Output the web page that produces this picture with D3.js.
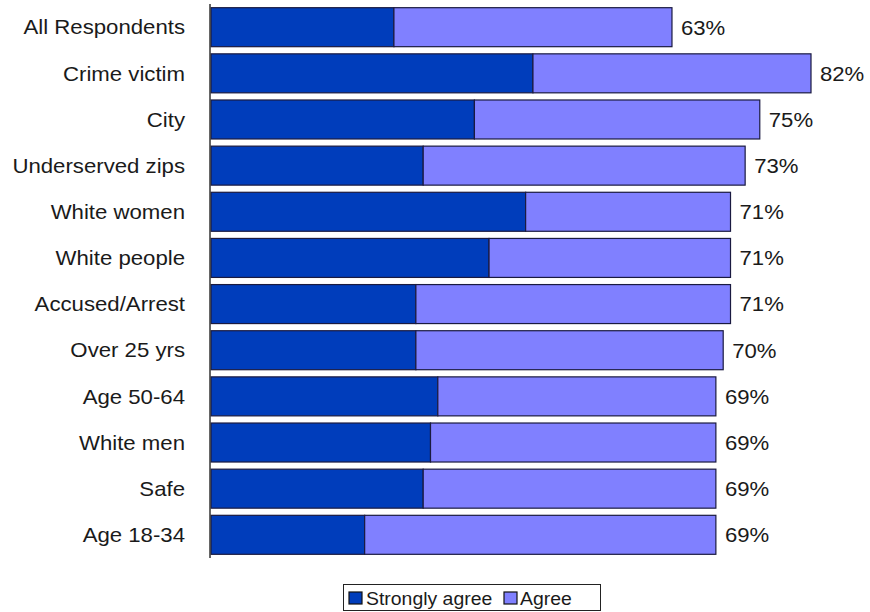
<!DOCTYPE html>
<html>
<head>
<meta charset="utf-8">
<script src="https://cdn.jsdelivr.net/npm/d3@7"></script>
<style>
  html, body { margin: 0; padding: 0; background: #fff; }
  svg { display: block; font-family: "Liberation Sans", Arial, sans-serif; }
</style>
</head>
<body>
<svg id="chart" width="870" height="612"></svg>
<script>
const categories = ["All Respondents", "Crime victim", "City", "Underserved zips", "White women",
  "White people", "Accused/Arrest", "Over 25 yrs", "Age 50-64", "White men", "Safe", "Age 18-34"];
const stronglyAgree = [25, 44, 36, 29, 43, 38, 28, 28, 31, 30, 29, 21];
const agree = [38, 38, 39, 44, 28, 33, 43, 42, 38, 39, 40, 48];
const totalLabels = ["63%", "82%", "75%", "73%", "71%", "71%", "71%", "70%", "69%", "69%", "69%", "69%"];
const seriesNames = ["Strongly agree", "Agree"];
const colors = ["#003DBB", "#8080FF"];

const svg = d3.select("#chart");
const plotLeft = 211, plotRight = 811, plotTop = 4, plotBottom = 558;

const x = d3.scaleLinear().domain([0, 82]).range([plotLeft, plotRight]);
const y = d3.scaleBand().domain(categories).range([plotTop, plotBottom]).paddingInner(0.155).paddingOuter(0.08);

const rows = categories.map((c, i) => ({ cat: c, s: stronglyAgree[i], a: agree[i], label: totalLabels[i] }));
const stack = d3.stack().keys(["s", "a"])(rows);

const g = svg.append("g");
stack.forEach((layer, li) => {
  g.selectAll(null).data(layer).enter().append("rect")
    .attr("x", d => x(d[0]))
    .attr("y", d => y(d.data.cat))
    .attr("width", d => x(d[1]) - x(d[0]))
    .attr("height", y.bandwidth())
    .attr("fill", colors[li])
    .attr("stroke", "#1a1a40")
    .attr("stroke-width", 1.2);
});

// axis line
svg.append("line").attr("x1", plotLeft - 1).attr("x2", plotLeft - 1).attr("y1", plotTop).attr("y2", plotBottom)
  .attr("stroke", "#333").attr("stroke-width", 1.5);

// category labels
svg.selectAll(null).data(rows).enter().append("text")
  .attr("transform", d => `translate(185,${y(d.cat) + y.bandwidth() / 2}) scale(1.11,1)`)
  .attr("dy", "0.36em")
  .attr("text-anchor", "end")
  .attr("font-size", 20)
  .attr("fill", "#1a1a1a")
  .text(d => d.cat);

// total labels
svg.selectAll(null).data(rows).enter().append("text")
  .attr("transform", d => `translate(${x(d.s + d.a) + 9},${y(d.cat) + y.bandwidth() / 2}) scale(1.08,1)`)
  .attr("dy", "0.36em")
  .attr("font-size", 20.5)
  .attr("fill", "#1a1a1a")
  .text(d => d.label);

// legend
const lg = svg.append("g");
lg.append("rect").attr("x", 343.5).attr("y", 584.5).attr("width", 257).attr("height", 26)
  .attr("fill", "#fff").attr("stroke", "#222").attr("stroke-width", 1);
const legendItems = [{ x: 349, tx: 366 }, { x: 504, tx: 520 }];
seriesNames.forEach((n, i) => {
  lg.append("rect").attr("x", legendItems[i].x).attr("y", 592).attr("width", 13).attr("height", 12)
    .attr("fill", colors[i]).attr("stroke", "#111").attr("stroke-width", 1.2);
  lg.append("text").attr("transform", `translate(${legendItems[i].tx},598) scale(1.05,1)`).attr("dy", "0.36em")
    .attr("font-size", 18.5).attr("fill", "#1a1a1a").text(n);
});
</script>
</body>
</html>
